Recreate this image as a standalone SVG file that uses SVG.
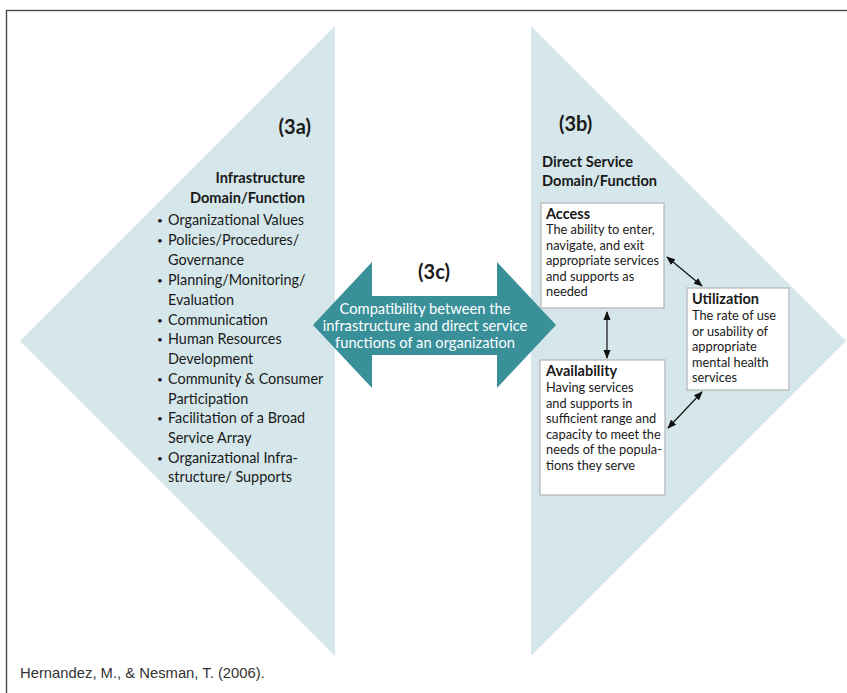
<svg xmlns="http://www.w3.org/2000/svg" width="847" height="693" viewBox="0 0 847 693">
<style>
text{font-family:Lato,"Open Sans","Liberation Sans",sans-serif;fill:#1a1a1a}
.tri{fill:#d5e7ea}
.lbl{font-size:20px;font-weight:bold}
.hd{font-size:14.6px;font-weight:bold}
.li{font-size:14.4px}
.bu{font-size:10px}
.box{fill:#fff;stroke:#b5b5b5;stroke-width:1.2}
.bt{font-size:14.5px;font-weight:bold}
.bd{font-size:12.8px}
.cn{stroke:#111;stroke-width:1.2;fill:none;marker-start:url(#ah);marker-end:url(#ah)}
.at{font-size:14.7px;fill:#fff;text-anchor:middle}
</style>
<defs>
<marker id="ah" viewBox="0 0 10 8" refX="9" refY="4" markerWidth="9" markerHeight="7.2" markerUnits="userSpaceOnUse" orient="auto-start-reverse">
<path d="M0,0 L10,4 L0,8 z" fill="#111"/>
</marker>
</defs>
<rect x="0" y="0" width="847" height="693" fill="#fff"/>
<rect x="6.5" y="10.5" width="900" height="800" fill="none" stroke="#4a4a4a" stroke-width="1.4"/>

<g id="infrastructure">
<polygon class="tri" points="335,26 335,656 20,341"/>
<text class="lbl" x="311" y="134" text-anchor="end">(3a)</text>
<text class="hd" x="305" y="183" text-anchor="end">Infrastructure</text>
<text class="hd" x="305" y="203" text-anchor="end">Domain/Function</text>
<text class="bu" x="157" y="224">•</text><text class="li" x="168" y="225">Organizational Values</text>
<text class="bu" x="157" y="244">•</text><text class="li" x="168" y="245">Policies/Procedures/</text>
<text class="li" x="168" y="265">Governance</text>
<text class="bu" x="157" y="284">•</text><text class="li" x="168" y="285">Planning/Monitoring/</text>
<text class="li" x="168" y="305">Evaluation</text>
<text class="bu" x="157" y="324">•</text><text class="li" x="168" y="325">Communication</text>
<text class="bu" x="157" y="343">•</text><text class="li" x="168" y="344">Human Resources</text>
<text class="li" x="168" y="364">Development</text>
<text class="bu" x="157" y="383">•</text><text class="li" x="168" y="384">Community &amp; Consumer</text>
<text class="li" x="168" y="404">Participation</text>
<text class="bu" x="157" y="422">•</text><text class="li" x="168" y="423">Facilitation of a Broad</text>
<text class="li" x="168" y="443">Service Array</text>
<text class="bu" x="157" y="462">•</text><text class="li" x="168" y="463">Organizational Infra-</text>
<text class="li" x="168" y="482">structure/ Supports</text>
</g>

<g id="direct-service">
<polygon class="tri" points="531,26 531,656 846,341"/>
<text class="lbl" x="559" y="131">(3b)</text>
<text class="hd" x="542" y="167">Direct Service</text>
<text class="hd" x="542" y="186">Domain/Function</text>
</g>

<g id="compatibility">
<polygon fill="#3a9099" points="313,325 372,262 372,296 497,296 497,262 556,325 497,388 497,355 372,355 372,388"/>
<text class="lbl" x="434" y="279" text-anchor="middle">(3c)</text>
<text class="at" x="425" y="314">Compatibility between the</text>
<text class="at" x="425" y="331">infrastructure and direct service</text>
<text class="at" x="425" y="348">functions of an organization</text>
</g>

<g id="access">
<rect class="box" x="541" y="203" width="123" height="105"/>
<text class="bt" x="546" y="219">Access</text>
<text class="bd" x="546" y="234">The ability to enter,</text>
<text class="bd" x="546" y="249.5">navigate, and exit</text>
<text class="bd" x="546" y="265">appropriate services</text>
<text class="bd" x="546" y="280.5">and supports as</text>
<text class="bd" x="546" y="296">needed</text>
</g>

<g id="availability">
<rect class="box" x="540" y="360" width="125" height="135"/>
<text class="bt" x="546" y="376">Availability</text>
<text class="bd" x="546" y="392">Having services</text>
<text class="bd" x="546" y="407.5">and supports in</text>
<text class="bd" x="546" y="423">sufficient range and</text>
<text class="bd" x="546" y="438.5">capacity to meet the</text>
<text class="bd" x="546" y="454">needs of the popula-</text>
<text class="bd" x="546" y="469.5">tions they serve</text>
</g>

<g id="utilization">
<rect class="box" x="687" y="288" width="102" height="102"/>
<text class="bt" x="692" y="304">Utilization</text>
<text class="bd" x="692" y="320">The rate of use</text>
<text class="bd" x="692" y="335.5">or usability of</text>
<text class="bd" x="692" y="351">appropriate</text>
<text class="bd" x="692" y="366.5">mental health</text>
<text class="bd" x="692" y="382">services</text>
</g>

<g id="connectors">
<line class="cn" x1="667" y1="257" x2="702" y2="286"/>
<line class="cn" x1="607" y1="312" x2="607" y2="358"/>
<line class="cn" x1="702" y1="392" x2="668" y2="428"/>
</g>

<g id="citation">
<text x="20" y="678" style="font-family:'Liberation Sans',Arial,sans-serif;font-size:14.8px;fill:#333">Hernandez, M., &amp; Nesman, T. (2006).</text>
</g>
</svg>
